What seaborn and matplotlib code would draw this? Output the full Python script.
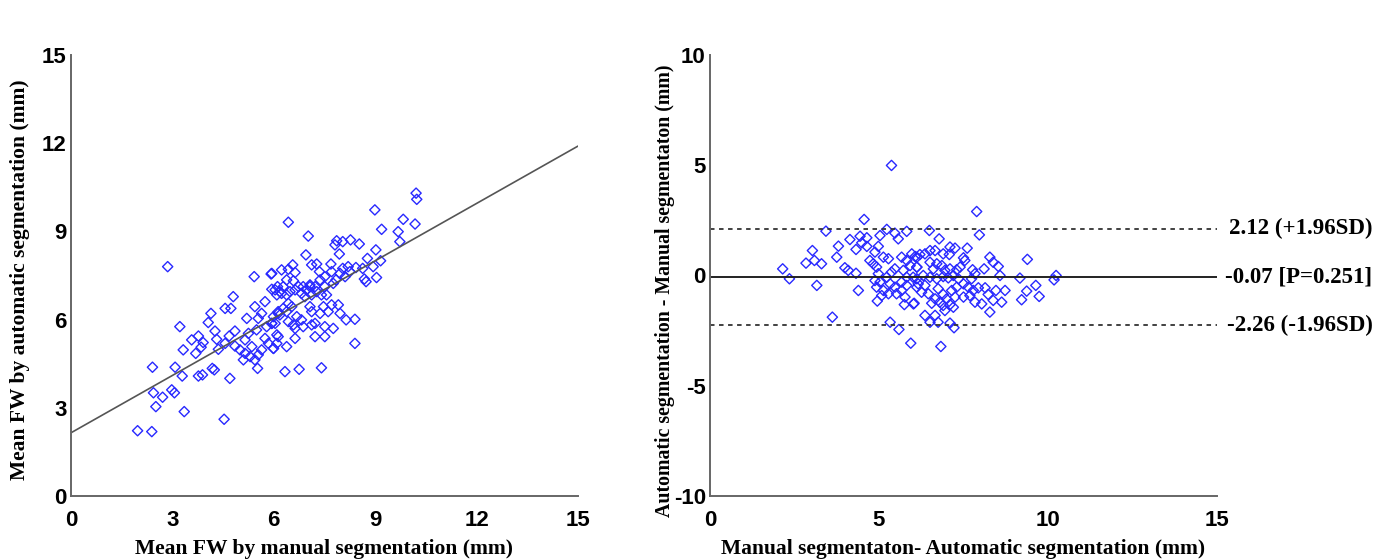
"""Scatter with regression line and Bland-Altman plot of FW segmentation."""
import matplotlib
matplotlib.use("Agg")
import matplotlib.pyplot as plt
from matplotlib.font_manager import FontProperties
import numpy as np
import seaborn as sns

# left panel: manual vs automatic mean FW (mm)
manual_fw = [
    2.86, 5.42, 5.92, 6.23, 5.94, 6.11, 6.23, 4.80, 4.56, 4.73, 4.14, 4.06, 3.22, 4.26, 4.31,
    3.77, 3.57, 3.91, 3.85, 3.69, 3.32, 4.68, 4.85, 4.56, 4.36, 4.85, 5.00, 5.15, 5.10, 5.30,
    5.44, 5.54, 5.64, 5.35, 5.15, 5.25, 5.49, 5.74, 5.84, 5.99, 5.79, 5.94, 5.54, 5.20, 5.64,
    5.44, 5.74, 6.13, 6.09, 5.52, 2.41, 3.08, 3.29, 3.77, 3.89, 4.18, 4.24, 4.70, 2.44, 2.71,
    2.98, 3.06, 2.51, 3.35, 4.53, 1.97, 2.39,
    10.21, 10.23, 8.99, 9.83, 10.18, 9.19, 9.68, 9.73, 6.43, 7.02, 7.86, 8.04, 8.27, 7.81, 8.53,
    7.94, 9.02, 6.95, 8.77, 9.16, 9.04, 8.68, 8.73, 8.43, 8.63, 8.94, 8.20, 8.04, 8.25, 8.11,
    7.96, 7.84, 7.69, 7.71, 7.51, 7.76, 7.35, 7.27, 7.12, 7.37, 6.56, 6.43, 6.63, 6.38, 6.58,
    5.94, 7.07, 7.07, 7.22, 6.97, 7.27, 7.12, 6.87, 6.82, 6.73, 6.63, 7.51, 7.56, 7.41, 6.92,
    6.28, 6.18, 6.04, 6.09, 6.38, 6.48, 6.43, 6.53, 6.28, 6.13, 5.99, 6.18, 6.38, 5.94, 6.04,
    6.43, 6.58, 6.68, 6.82, 6.87, 6.63, 7.07, 7.12, 7.22, 7.12, 7.37, 7.47, 7.61, 7.71, 7.91,
    7.96, 7.51, 7.76, 8.14, 8.40, 7.22, 7.51, 6.63, 6.38, 6.09, 5.99, 6.13, 8.40, 6.33, 6.75,
    7.41,
]
auto_fw = [
    7.80, 7.46, 7.55, 7.69, 7.03, 7.12, 6.89, 6.78, 6.38, 6.38, 6.21, 5.90, 5.76, 5.61, 5.33,
    5.44, 5.31, 5.22, 5.06, 4.85, 4.97, 5.44, 5.61, 5.19, 4.99, 5.10, 4.97, 4.85, 4.63, 4.74,
    4.63, 4.80, 4.97, 5.08, 5.31, 5.53, 5.65, 5.36, 5.19, 5.02, 5.76, 5.87, 6.04, 6.04, 6.21,
    6.44, 6.61, 6.21, 5.48, 4.34, 4.38, 4.38, 4.08, 4.08, 4.12, 4.34, 4.29, 4.00, 3.51, 3.36,
    3.61, 3.51, 3.04, 2.87, 2.61, 2.22, 2.19,
    10.30, 10.09, 9.73, 9.41, 9.25, 9.07, 8.99, 8.65, 9.31, 8.84, 8.68, 8.65, 8.71, 8.54, 8.57,
    8.23, 8.37, 8.20, 8.08, 8.00, 7.43, 7.38, 7.29, 7.77, 7.74, 7.80, 7.80, 7.74, 7.63, 7.46,
    7.57, 7.35, 7.89, 7.63, 7.46, 7.23, 7.63, 7.89, 7.86, 7.35, 7.86, 7.71, 7.60, 7.35, 7.32,
    7.57, 7.12, 7.18, 7.12, 7.01, 6.95, 6.84, 7.12, 6.89, 7.12, 7.01, 7.12, 6.84, 6.84, 6.78,
    7.12, 6.95, 7.01, 6.84, 6.84, 6.95, 6.55, 6.44, 6.38, 6.27, 6.10, 6.16, 6.27, 5.87, 5.87,
    5.93, 5.82, 6.10, 5.99, 5.76, 5.70, 6.44, 6.27, 5.87, 5.82, 6.21, 6.44, 6.27, 6.50, 6.50,
    6.21, 5.76, 5.70, 5.99, 6.01, 5.42, 5.42, 5.36, 5.08, 5.19, 5.02, 5.42, 5.19, 4.23, 4.31,
    4.36,
]
fit_intercept = 2.15
fit_slope = 0.65

# right panel: Bland-Altman
ba_mean = [
    5.37, 4.56, 3.43, 5.23, 5.47, 5.57, 5.82, 5.03, 4.14, 4.44, 4.64, 4.49, 4.32, 4.64, 3.80,
    3.03, 4.98, 4.88, 3.75, 2.84, 3.09, 3.30, 2.15, 2.35, 3.16, 3.99, 4.09, 4.32, 4.39, 3.62,
    4.73, 5.13, 5.28, 4.83, 4.93, 4.98, 4.88, 5.03, 4.93, 5.13, 5.08, 4.95, 5.23, 5.37, 5.47,
    5.33, 5.47, 5.28, 5.52, 5.67, 5.82, 5.97, 6.12, 5.92, 6.12, 5.72, 5.82, 6.01, 5.67, 5.82,
    5.67, 6.12, 5.77, 5.75, 6.04, 5.33, 5.59, 5.94,
    7.89, 7.97, 6.49, 6.78, 7.10, 7.25, 6.90, 7.08, 6.66, 6.51, 6.36, 6.21, 6.07, 7.61, 7.50,
    7.54, 8.28, 8.38, 8.53, 8.11, 9.39, 6.12, 6.51, 6.71, 6.86, 6.61, 6.95, 7.10, 7.30, 7.40,
    7.77, 7.84, 7.74, 8.58, 9.17, 10.24, 10.18, 6.12, 6.31, 6.51, 6.71, 6.90, 7.05, 7.20, 7.35,
    6.16, 6.36, 6.26, 6.46, 6.02, 6.75, 6.90, 6.66, 6.80, 7.00, 7.15, 7.25, 7.30, 6.56, 6.90,
    7.10, 7.20, 6.95, 7.50, 7.64, 7.79, 7.94, 7.50, 7.69, 7.84, 8.04, 8.14, 8.23, 8.46, 8.38,
    8.63, 8.73, 8.28, 9.22, 9.37, 9.64, 9.74, 6.36, 6.66, 6.51, 6.75, 7.10, 7.22, 6.83,
]
ba_diff = [
    4.99, 2.54, 2.01, 2.09, 1.92, 1.66, 2.00, 1.81, 1.63, 1.78, 1.71, 1.48, 1.18, 1.32, 1.33,
    1.13, 1.32, 1.06, 0.83, 0.56, 0.68, 0.53, 0.30, -0.15, -0.45, 0.35, 0.23, 0.10, -0.68, -1.89,
    0.68, 0.83, 0.76, 0.53, 0.38, 0.08, -0.23, -0.30, -0.53, -0.68, -0.91, -1.16, -0.08, 0.15, 0.30,
    -0.38, -0.53, -0.83, -0.83, 0.83, 0.68, 0.98, 0.83, 0.45, 0.38, 0.23, -0.08, -0.08, -0.30, -0.45,
    -0.68, -0.53, -0.98, -1.32, -1.26, -2.12, -2.45, -3.07,
    2.90, 1.84, 2.04, 1.66, 1.29, 1.24, 0.98, 0.95, 1.13, 1.13, 0.98, 0.95, 0.86, 1.24, 0.80,
    0.68, 0.83, 0.60, 0.41, 0.30, 0.73, 0.38, 0.60, 0.53, 0.45, 0.30, 0.23, 0.30, 0.26, 0.38,
    0.26, 0.08, -0.15, 0.00, -0.12, 0.00, -0.20, -0.15, 0.00, -0.08, -0.15, -0.05, -0.11, 0.00, -0.15,
    -0.38, -0.45, -0.76, -0.83, -1.29, -0.60, -0.86, -1.06, -1.21, -1.06, -0.68, -0.98, -0.53, -1.26, -1.36,
    -1.32, -1.44, -1.59, -0.38, -0.53, -0.68, -0.56, -0.98, -0.91, -1.21, -1.29, -0.56, -0.86, -0.68, -1.13,
    -1.21, -0.68, -1.66, -1.10, -0.71, -0.45, -0.95, -1.81, -1.81, -2.12, -2.12, -2.16, -2.37, -3.22,
]
ba_bias = -0.07
ba_upper = 2.12
ba_lower = -2.26
ba_labels = ["2.12 (+1.96SD)", "-0.07 [P=0.251]", "-2.26 (-1.96SD)"]

SERIF = ["Liberation Serif", "DejaVu Serif"]
SANS = ["Liberation Sans", "DejaVu Sans"]
BLUE = "#2828ff"
SPINE = "#666666"

sns.set_theme(style="white")
plt.rcParams["font.family"] = SANS
plt.rcParams["axes.unicode_minus"] = False

fig = plt.figure(figsize=(13.87, 5.59), dpi=100)
ax1 = fig.add_axes([0.0512, 0.1127, 0.3655, 0.789])
ax2 = fig.add_axes([0.5119, 0.1127, 0.3655, 0.789])

scatter_kw = dict(marker="D", s=27, facecolor="none", edgecolor=BLUE, linewidth=1.0)
sns.scatterplot(x=manual_fw, y=auto_fw, ax=ax1, **scatter_kw)
ax1.axline((0, fit_intercept), slope=fit_slope, color="#555555", lw=1.2, zorder=1)

sns.scatterplot(x=ba_mean, y=ba_diff, ax=ax2, **scatter_kw)
ax2.axhline(ba_bias, color="#222222", lw=1.4, zorder=1)
for lvl in (ba_upper, ba_lower):
    ax2.axhline(lvl, color="#333333", lw=1.3, ls=(0, (2.5, 2.5)), zorder=1)
for lvl, txt in zip([ba_upper, ba_bias, ba_lower], ba_labels):
    ax2.annotate(txt, xy=(1.307, lvl), xycoords=("axes fraction", "data"),
                 va="center", ha="right", color="black",
                 fontsize=16.5, fontweight="bold", family=SERIF, annotation_clip=False)

ax1.set_xlim(0, 15)
ax1.set_ylim(0, 15)
ax1.set_xticks(np.arange(0, 16, 3))
ax1.set_yticks(np.arange(0, 16, 3))
ax1.set_xlabel("Mean FW by manual segmentation (mm)")
ax1.set_ylabel("Mean FW by automatic segmentation (mm)")

ax2.set_xlim(0, 15)
ax2.set_ylim(-10, 10)
ax2.set_xticks([0, 5, 10, 15])
ax2.set_yticks([-10, -5, 0, 5, 10])
ax2.set_xlabel("Manual segmentaton- Automatic segmentation (mm)")
ax2.set_ylabel("Automatic segmentation - Manual segmentaton (mm)")

for ax in (ax1, ax2):
    sns.despine(ax=ax)
    for side in ("left", "bottom"):
        ax.spines[side].set_color(SPINE)
        ax.spines[side].set_linewidth(1.4)
    ax.tick_params(direction="in", length=5, width=1.2, color=SPINE,
                   labelsize=16, labelcolor="black")
    ax.tick_params(axis="x", pad=10)
    ax.tick_params(axis="y", pad=3)
    for lab in ax.get_xticklabels() + ax.get_yticklabels():
        lab.set_fontweight("bold")
    ax.xaxis.label.set_fontproperties(FontProperties(family=SERIF, weight="bold", size=15.5))
    ax.xaxis.label.set_color("black")
    ax.yaxis.label.set_color("black")
    ax.xaxis.labelpad = 6

ax1.yaxis.label.set_fontproperties(FontProperties(family=SERIF, weight="bold", size=15.5))
ax2.yaxis.label.set_fontproperties(FontProperties(family=SERIF, weight="bold", size=14.3))
ax1.yaxis.set_label_coords(-0.08, 0.49)
ax2.yaxis.set_label_coords(-0.069, 0.465)

fig.savefig("out.png", dpi=100)
